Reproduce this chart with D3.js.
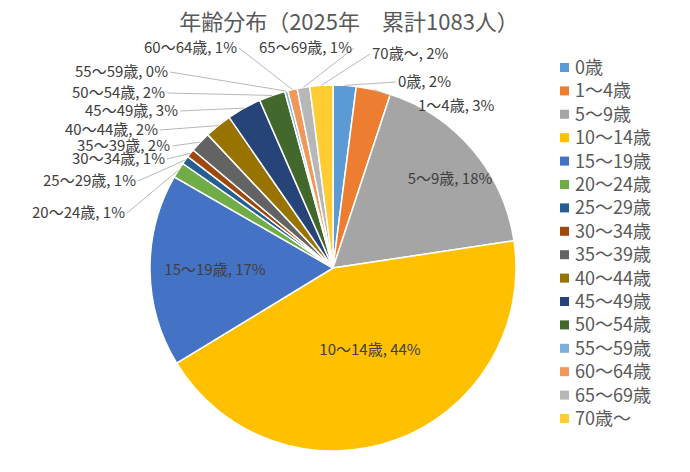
<!DOCTYPE html>
<html><head><meta charset="utf-8">
<script src="https://cdn.jsdelivr.net/npm/d3@7"></script>
<style>body{margin:0;background:#fff}text{font-family:"Noto Sans CJK JP","Noto Sans",sans-serif}</style>
</head><body><div id="chart"></div>
<script>
const width = 690, height = 472;
const categories = ["0歳","1～4歳","5～9歳","10～14歳","15～19歳","20～24歳","25～29歳","30～34歳","35～39歳","40～44歳","45～49歳","50～54歳","55～59歳","60～64歳","65～69歳","70歳～"];
const counts = [22,33,190,473,184,15,8,8,20,26,33,25,3,9,12,22];
const colors = ["#5B9BD5","#ED7D31","#A5A5A5","#FFC000","#4472C4","#70AD47","#255E91","#9E480E","#636363","#997300","#264478","#43682B","#7CAFDD","#F1975A","#B7B7B7","#FFCD33"];
// label anchor points (x, y, text-anchor) for each slice label
const labelPos = [[398,87,"start"],[418,111,"start"],[450,184,"middle"],[370,355,"middle"],[215,275,"middle"],
  [125,218,"end"],[136,186,"end"],[165,164,"end"],[170,151,"end"],[158,135,"end"],[178,116,"end"],
  [165,98,"end"],[168,77,"end"],[237,53,"end"],[352,53,"end"],[372,59,"start"]];
const inside = [2,3,4];

const total = d3.sum(counts);
const cx = 333, cy = 268, r = 183;
const svg = d3.select("#chart").append("svg").attr("width", width).attr("height", height);

svg.append("text").attr("x", 349).attr("y", 30).attr("text-anchor", "middle")
  .attr("font-size", 22).attr("fill", "#595959").text("年齢分布（2025年　累計1083人）");

const pie = d3.pie().sort(null).value(d => d);
const arcs = pie(counts);
const arc = d3.arc().innerRadius(0).outerRadius(r);
const g = svg.append("g").attr("transform", `translate(${cx},${cy})`);

g.selectAll("path").data(arcs).enter().append("path")
  .attr("d", arc).attr("fill", (d, i) => colors[i])
  .attr("stroke", "#fff").attr("stroke-width", 1.5);

// leader lines for outside labels
arcs.forEach((d, i) => {
  if (inside.includes(i)) return;
  const a = (d.startAngle + d.endAngle) / 2;
  const x0 = cx + Math.sin(a) * r, y0 = cy - Math.cos(a) * r;
  const [lx, ly, anc] = labelPos[i];
  const ex = anc === "end" ? lx + 2 : lx - 2;
  svg.append("line").attr("x1", x0).attr("y1", y0).attr("x2", ex).attr("y2", ly - 5)
    .attr("stroke", "#a6a6a6").attr("stroke-width", 0.8);
});

svg.selectAll("text.lbl").data(arcs).enter().append("text").attr("class", "lbl")
  .attr("x", (d, i) => labelPos[i][0]).attr("y", (d, i) => labelPos[i][1])
  .attr("text-anchor", (d, i) => labelPos[i][2])
  .attr("font-size", 15).attr("fill", "#404040")
  .text((d, i) => `${categories[i]}, ${Math.round(d.value / total * 100)}%`);

const legend = svg.append("g").attr("transform", "translate(560,60)");
const row = legend.selectAll("g").data(categories).enter().append("g")
  .attr("transform", (d, i) => `translate(0,${i * 23.4})`);
row.append("rect").attr("width", 9).attr("height", 9).attr("y", 3).attr("fill", (d, i) => colors[i]);
row.append("text").attr("x", 15).attr("y", 14).attr("font-size", 18).attr("fill", "#595959").text(d => d);
</script></body></html>
